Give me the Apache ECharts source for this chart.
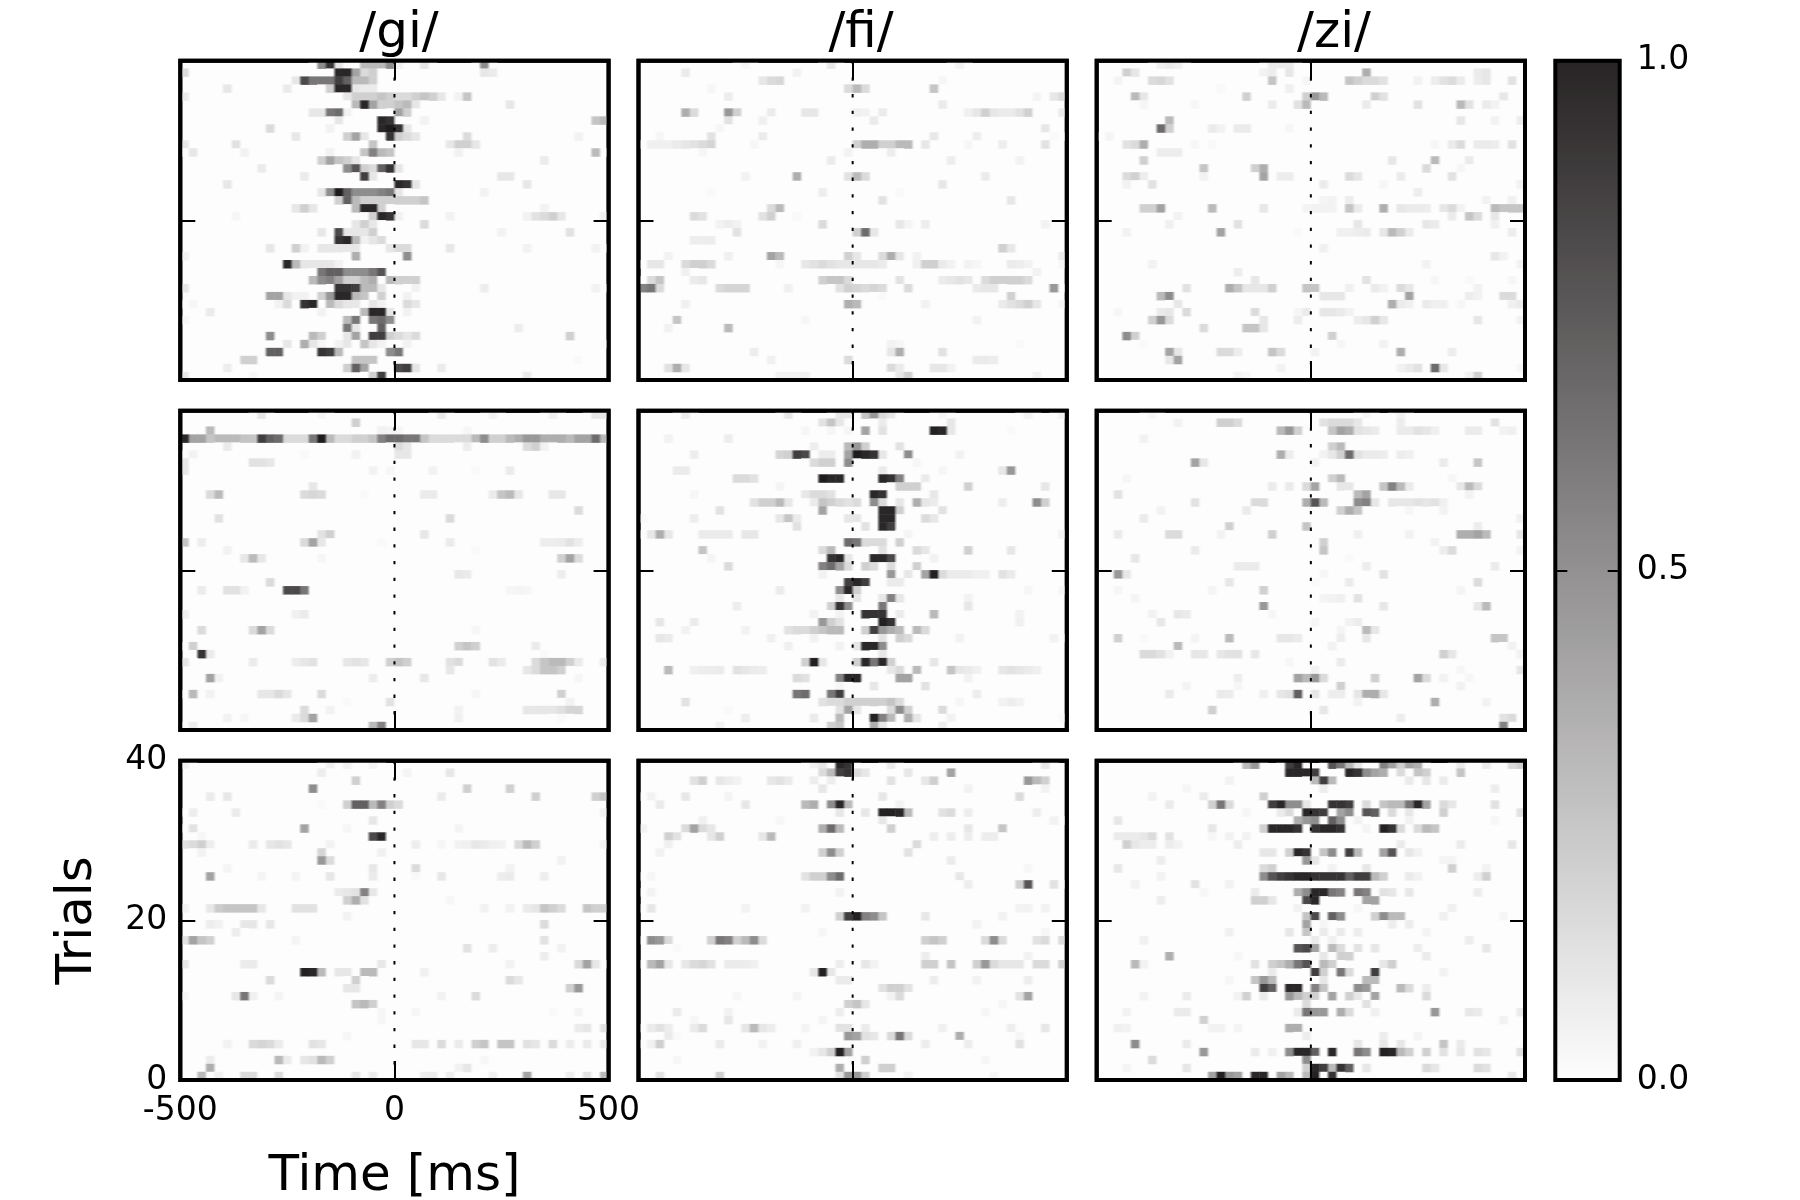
<!DOCTYPE html>
<html><head><meta charset="utf-8">
<style>html,body{margin:0;background:#fff}#c{width:1800px;height:1200px}</style>
<script src="https://cdn.jsdelivr.net/npm/echarts@6/dist/echarts.min.js"></script>
</head><body><div id="c"></div>
<script>
// Each panel: 40 rows listed from the top row (trial 39) down; each row is bin,value,bin,value...
const giTop=[
[16,.5,17,.9,18,.1,21,.3,22,.3,23,.3,24,.5,25,.05,28,.1,35,.5],
[0,.15,18,.95,19,.95,20,.4,21,.15,22,.2,35,.1,36,.08],
[13,.1,14,.8,15,.6,16,.6,17,.6,18,.85,19,.7,20,.3,21,.3,22,.2],
[5,.1,12,.08,17,.2,18,.95,19,.95,20,.1,21,.08,22,.08],
[0,.08,19,.1,20,.2,21,.2,22,.2,23,.25,24,.2,25,.15,26,.15,27,.2,28,.25,29,.2,30,.1,32,.05,33,.25],
[20,.3,21,.95,22,.4,23,.2,24,.2,25,.25,26,.3,27,.1,38,.1],
[15,.1,16,.1,17,.6,18,.65,19,.05,25,.4,26,.2],
[18,.1,23,.95,24,.9,28,.05,48,.25,49,.3],
[10,.15,17,.05,23,.95,24,1,25,.9,26,.1],
[13,.1,19,.2,20,.4,21,.1,24,.9,25,.2,26,.15,27,.1,33,.15,46,.05],
[0,.1,6,.12,22,.25,31,.1,32,.2,33,.2,34,.1],
[1,.1,7,.05,17,.05,21,.25,22,.55,23,.3,24,.25,32,.05,48,.3],
[16,.2,17,.4,18,.25,19,.2,20,.1,42,.08],
[9,.08,19,.5,20,.75,21,.2,22,.15,23,.7,24,.9,25,.1],
[14,.08,21,.85,22,.1,37,.1,38,.1],
[5,.1,25,.95,26,.9,27,.1,40,.1],
[16,.1,17,.5,18,1,19,.7,20,.5,21,.5,22,.5,23,.55,24,.6,25,.1,35,.05],
[18,.2,19,.7,20,.3,21,.2,22,.2,23,.2,24,.2,25,.2,26,.2,27,.2,28,.25],
[13,.1,14,.2,15,.1,20,.3,21,.95,22,.95,23,.2,42,.05],
[6,.03,22,.2,23,.95,24,.9,25,.05,31,.05,40,.05,41,.12,42,.15,43,.2,44,.1,49,.05],
[20,.1,21,.2,22,.1,28,.15],
[16,.1,18,.8,19,.1,20,.1,21,.1,22,.2,37,.05,45,.12],
[18,.9,19,.95,20,.3,21,.05,22,.1,23,.15],
[10,.1,13,.2,14,.05,16,.1,17,.1,18,.1,19,.1,20,.1,24,.1,25,.15,26,.15,31,.1,40,.05,48,.05],
[0,.05,20,.35,26,.5],
[12,.95,13,.3,14,.1,15,.1,16,.1,17,.1,18,.05],
[16,.6,17,.7,18,.7,19,.5,20,.5,21,.5,22,.6,23,.75],
[15,.3,16,.5,17,.55,18,.4,19,.2,20,.2,21,.3,22,.35,24,.3,25,.2,26,.2,27,.2],
[0,.1,18,.9,19,.9,20,.85,21,.3,22,.3,23,.1,27,.05,35,.07,48,.05],
[10,.4,11,.4,12,.1,13,.05,14,.05,16,.2,17,.45,18,.95,19,.95,20,.3,21,.25,23,.2,26,.05],
[1,.03,11,.05,12,.15,14,.9,15,.95,17,.3,18,.15,19,.1,20,.1,22,.1,23,.05,26,.15,27,.1],
[3,.08,16,.05,21,.3,22,.95,23,.95,24,.1,26,.05],
[0,.03,19,.3,20,.6,22,.6,23,.65,24,.5],
[19,.6,20,.1,23,.7,39,.07],
[10,.5,15,.3,16,.2,19,.1,20,.4,22,.85,23,.85,24,.2,25,.15,26,.1,27,.15,45,.2],
[12,.1,14,.35,15,.1,16,.03,18,.05,19,.1,21,.25,22,.1,23,.05,26,.05,49,.02],
[10,.7,11,.7,16,.9,17,.85,18,.3,24,.5,25,.6],
[7,.2,8,.2,20,.25,21,.25,22,.25,46,.02],
[5,.07,19,.2,20,.7,21,.4,25,.8,26,.85,27,.1,30,.08],
[0,.1,8,.03,22,.2,23,.85,40,.08]];
const fiTop=[
[12,.03,22,.1,37,.05],
[5,.08,18,.05],
[14,.1,15,.15,16,.17,35,.03],
[8,.03,24,.15,25,.3,26,.15,34,.25],
[10,.07,46,.04,48,.1,49,.15],
[35,.08],
[5,.35,6,.15,10,.45,11,.2,15,.08,19,.1,20,.1,25,.06,26,.05,28,.08,38,.06,39,.1,40,.2,41,.1,42,.08,43,.08,44,.12,45,.2,49,.08],
[10,.12,14,.06,27,.08],
[9,.03,47,.1],
[2,.03,8,.12,14,.08,34,.1,39,.07,48,.02],
[1,.06,2,.06,3,.06,4,.08,5,.1,6,.12,7,.15,8,.18,13,.03,25,.2,26,.35,27,.35,28,.2,29,.2,30,.3,31,.3,33,.1,38,.03,42,.07,47,.12],
[7,.03,24,.05,29,.07],
[22,.08,36,.07,44,.05],
[],
[12,.05,18,.35,24,.12,25,.3,26,.15,40,.08],
[35,.1],
[8,.02,21,.07,30,.02],
[28,.12,43,.1],
[15,.15,16,.3],
[6,.15,7,.12,14,.12,15,.2,18,.02],
[9,.05,10,.07,11,.05,21,.15,30,.1,31,.04,33,.07,47,.05],
[11,.12,25,.2,26,.65,27,.1],
[6,.07,7,.07,8,.07],
[42,.2,43,.1],
[3,.05,10,.06,15,.4,16,.3,24,.2,25,.1,28,.15,29,.35,30,.1,32,.05,49,.08],
[1,.1,2,.1,5,.15,6,.2,7,.2,8,.15,16,.03,19,.1,20,.12,21,.15,22,.12,23,.1,24,.1,25,.1,26,.1,27,.1,28,.08,32,.06,33,.2,34,.2,35,.08,36,.05,38,.05,39,.03,43,.08,44,.07,45,.05,49,.03],
[5,.06,46,.05],
[1,.15,2,.25,6,.08,7,.1,21,.2,22,.25,23,.25,24,.15,30,.12,35,.08,36,.1,37,.12,38,.1,40,.15,41,.2,42,.2,43,.2,44,.2,45,.15],
[0,.55,1,.6,2,.15,9,.15,10,.18,11,.18,12,.18,17,.06,23,.12,24,.2,25,.18,26,.15,27,.18,28,.15,31,.15,39,.08,40,.1,41,.1,48,.45],
[28,.02,43,.2],
[5,.06,24,.35,25,.3,33,.05,42,.08,43,.12,44,.15,45,.2,46,.1,49,.03],
[],
[4,.25,19,.03,39,.05],
[3,.05,10,.3],
[],
[29,.05,30,.03,44,.02],
[13,.07,29,.1,30,.35,35,.12],
[15,.06,24,.15,39,.08,40,.08,41,.07],
[3,.12,4,.35,5,.1,29,.15,30,.08,34,.1,35,.1,36,.05],
[16,.05,17,.05,18,.05,19,.06,30,.1,31,.2,46,.05]];
const ziTop=[
[7,.06,8,.08,9,.06,20,.08,21,.08,22,.08],
[3,.2,4,.1,19,.05,20,.07,22,.1,31,.35,44,.08,45,.1],
[2,.04,6,.15,7,.17,8,.12,20,.25,24,.03,29,.25,30,.2,31,.15,32,.15,33,.12,37,.05,39,.07,40,.12,41,.15,42,.08,44,.07,45,.1,48,.12],
[14,.02,22,.06],
[4,.3,5,.1,17,.2,24,.2,25,.45,26,.3,32,.2,33,.12,47,.1],
[5,.03,11,.03,20,.08,23,.12,24,.3,31,.08,37,.12,42,.3,43,.12,45,.08,46,.05],
[],
[8,.3,42,.1,46,.05,49,.07],
[7,.65,8,.2,13,.08,14,.05,16,.08,17,.08,22,.03],
[1,.04],
[3,.12,4,.15,5,.35,11,.03,13,.02,39,.03,41,.08,42,.15,44,.08,45,.08,46,.07,48,.12],
[7,.07,8,.07,9,.07],
[5,.2,34,.1,39,.3,43,.08],
[12,.25,18,.2,19,.35,38,.15,42,.03],
[3,.15,4,.2,5,.07,12,.05,19,.4,21,.07,22,.07,29,.15,30,.1,35,.08,41,.12],
[3,.05,6,.12,26,.08,33,.03,49,.05],
[37,.07],
[26,.04,27,.05,29,.07,45,.05,48,.06],
[5,.2,6,.2,7,.4,13,.3,19,.1,24,.04,25,.05,26,.05,27,.05,29,.25,30,.08,33,.35,35,.1,36,.08,37,.08,38,.07,40,.1,41,.15,42,.05,46,.3,47,.25,48,.25,49,.25],
[9,.05,41,.08,43,.25,44,.15,46,.1],
[8,.06,16,.12,30,.1,38,.1,39,.08,46,.06],
[3,.05,14,.4,23,.02,28,.06,29,.06,30,.07,31,.08,33,.1,34,.3,35,.2,36,.08,48,.07],
[],
[26,.06],
[46,.1,47,.05],
[6,.05,38,.05,49,.05],
[16,.07],
[18,.1,31,.12,39,.03,43,.02,48,.03],
[10,.12,15,.35,16,.25,17,.1,18,.1,19,.1,20,.2,24,.25,25,.25,29,.06,32,.08,33,.05,35,.15,36,.1,44,.05],
[7,.3,8,.5,26,.1,27,.1,28,.1,36,.4,43,.07,44,.05,47,.15,48,.15],
[9,.1,34,.35,35,.08,36,.06,38,.08,39,.06,40,.06,42,.03,48,.06,49,.08],
[2,.03,7,.08,8,.1,10,.15,18,.15,23,.03,24,.08,26,.1,27,.1,28,.08,29,.05],
[6,.2,7,.45,8,.15,19,.1,23,.07,30,.07,31,.1,32,.2,33,.1,44,.1,49,.05],
[12,.15,17,.25,18,.25,19,.1],
[3,.5,4,.2,27,.2],
[5,.02,28,.03,33,.05],
[8,.4,9,.1,14,.15,15,.15,16,.07,20,.25,21,.15,25,.05,35,.35,41,.07],
[9,.4,8,.1],
[21,.05,35,.05,36,.08,37,.12,39,.65,40,.1,49,.03],
[16,.05,17,.03,44,.2,43,.05]];
const giMid=[
[9,.1,16,.03,30,.08,36,.05,43,.06,48,.1,49,.1],
[20,.2],
[3,.3,23,.05,24,.04,25,.03,33,.03],
[0,.95,1,.4,2,.4,3,.25,4,.3,5,.3,6,.3,7,.25,8,.25,9,.85,10,.7,11,.65,12,.15,13,.15,14,.15,15,.6,16,1,17,.3,18,.15,19,.15,20,.2,21,.2,22,.25,23,.55,24,.65,25,.65,26,.6,27,.6,28,.25,29,.15,30,.15,31,.15,32,.15,33,.15,34,.3,35,.5,36,.2,37,.2,38,.3,39,.35,40,.45,41,.45,42,.35,43,.35,44,.35,45,.3,46,.4,47,.4,48,.65,49,.3],
[5,.08,25,.15,26,.1,33,.07,40,.15,41,.2,42,.05],
[1,.05,14,.02,20,.05,25,.1,26,.1],
[0,.1,8,.12,9,.12,10,.1],
[0,.1,22,.05,24,.03,29,.05,34,.02,38,.08],
[],
[15,.1],
[3,.15,4,.3,14,.15,15,.17,16,.15,21,.02,28,.08,29,.08,36,.08,37,.25,38,.3,39,.1,43,.1,44,.1],
[],
[46,.15],
[4,.12,31,.15],
[],
[16,.12,17,.2,28,.1],
[0,.25,2,.07,15,.4,14,.15,16,.1,23,.02,31,.08,42,.07,43,.07,44,.08,45,.12,46,.07],
[5,.05,34,.02],
[8,.3,9,.1,7,.1,16,.03,44,.2,45,.4,46,.15],
[],
[32,.1,33,.08,44,.07],
[10,.15],
[2,.08,5,.12,6,.12,7,.05,12,.8,13,.8,14,.6,38,.03,39,.04,40,.03],
[],
[],
[0,.06,13,.06,14,.08],
[],
[2,.15,8,.15,9,.4,10,.15,34,.03],
[],
[1,.2,32,.2,33,.25,34,.2,41,.08],
[2,.9,3,.08,42,.02],
[0,.1,8,.08,13,.07,14,.1,15,.12,19,.1,20,.12,21,.1,24,.2,25,.25,26,.2,31,.12,32,.15,36,.12,37,.08,41,.15,42,.25,43,.3,44,.3,45,.2,46,.08,49,.08],
[31,.1,40,.1,41,.15,42,.25,43,.25,44,.2],
[3,.4,4,.05,22,.07,28,.1,46,.03],
[],
[1,.3,3,.05,9,.1,10,.1,11,.15,12,.1,16,.15,34,.03,44,.2],
[19,.02,24,.12,45,.05],
[14,.15,17,.05,32,.05,40,.1,41,.1,42,.1,43,.1,44,.13,45,.18,46,.18],
[5,.05,7,.03,13,.08,14,.15,15,.4,32,.06,44,.02],
[1,.07,22,.3,23,.55]];
const fiMid=[
[5,.08,17,.1,23,.1,24,.1,26,.25,27,.45,28,.15,29,.1,35,.03,45,.05,49,.05],
[21,.12,22,.25,23,.1,28,.08,36,.1],
[19,.03,22,.03,24,.03,26,.4,28,.12,34,.98,35,.95,36,.1,43,.02],
[3,.05,10,.07],
[20,.07,24,.3,25,.45,26,.2,30,.12],
[6,.07,16,.18,17,.2,18,.85,19,.8,21,.07,22,.07,24,.4,25,1,26,.95,27,.9,28,.1,31,.5,37,.05],
[20,.15,21,.2,22,.2,24,.5,32,.03],
[4,.08,5,.08,28,.08,35,.03,43,.45,42,.1],
[11,.15,12,.15,13,.12,21,1,22,.95,23,.95,28,.95,29,.9,30,.55,33,.08],
[16,.04,30,.2,31,.2,32,.2,38,.2,47,.1],
[6,.03,19,.1,20,.15,21,.15,22,.12,27,.95,28,.9,34,.1],
[13,.12,14,.2,15,.2,16,.3,17,.1,20,.08,21,.25,22,.2,23,.15,24,.12,25,.15,27,.5,28,.15,30,.1,32,.35,33,.1,34,.08,42,.07,46,.5,47,.2],
[9,.12,21,.4,28,.95,29,.95,30,.2,35,.12],
[0,.02,6,.07,16,.1,17,.25,18,.08,24,.1,25,.1,28,.95,29,.95,33,.15,34,.1],
[18,.12,26,.12,28,.95,29,.85],
[1,.1,2,.35,3,.1,7,.08,8,.08,9,.08,10,.08,12,.1,13,.1,31,.04,49,.05],
[24,.65,25,.6,26,.15,27,.15,28,.15,30,.2],
[7,.25,21,.15,22,.3,28,.12,32,.15,33,.1,38,.2,43,.1],
[8,.04,22,.9,23,.95,24,.1,27,.95,28,.95,29,.8,34,.05],
[10,.15,21,.55,22,.65,23,.4,24,.15,26,.2,27,.15,29,.15,32,.2],
[21,.05,29,.45,31,.1,33,.4,34,.98,35,.15,36,.08,37,.08,38,.08,39,.06,40,.06,42,.12,43,.08],
[24,.85,25,.95,26,.85,29,.08,30,.08],
[16,.08,23,.5,24,.95,25,.2,45,.03,49,.03],
[23,.1,25,.1,28,.1,29,.55,30,.1,38,.05],
[11,.07,22,.2,23,.9,24,.5,28,.6,38,.1],
[20,.05,23,.05,26,.9,27,.9,28,.9,30,.08,34,.3,44,.05],
[2,.1,6,.08,21,.45,22,.2,23,.12,28,.98,29,.9,44,.06],
[5,.05,12,.05,17,.12,18,.15,19,.15,20,.2,21,.25,22,.3,23,.3,26,.2,27,.85,28,.45,29,.35,30,.3,32,.3,33,.15],
[2,.1,3,.08,15,.06,20,.05,28,.12,30,.2,31,.15,37,.05,48,.05],
[17,.06,23,.05,25,.1,26,.95,27,.95,28,.5],
[28,.1],
[20,.98,19,.2,21,.1,25,.2,26,.95,27,.6,28,.95,29,.2,34,.1],
[3,.3,6,.06,7,.07,8,.07,9,.08,11,.12,12,.1,13,.08,14,.07,29,.1,30,.15,32,.3,36,.25,37,.1,38,.08,39,.06,42,.1,43,.12,44,.1,45,.08,46,.06],
[18,.15,19,.12,23,.55,24,.95,25,.95,30,.4,31,.4,38,.05],
[23,.03,27,.1,33,.12],
[18,.6,19,.65,22,.6,23,.85,39,.07],
[5,.12,21,.12,22,.15,23,.15,24,.2,25,.2,26,.2,27,.2,28,.2,29,.25,30,.15,37,.03,42,.05,43,.07,44,.05],
[10,.02,23,.12,24,.4,25,.1,30,.5,29,.15,31,.2,35,.15],
[12,.07,20,.08,23,.3,27,.98,28,.55,29,.3,31,.35,32,.1,36,.05,49,.02],
[9,.05,22,.2,23,.25,27,.35,28,.1,35,.07]];
const ziMid=[
[6,.03,31,.03,35,.05],
[9,.05,14,.2,15,.2,16,.15,26,.12,27,.15,28,.15,29,.15,30,.1,35,.07,46,.12],
[21,.3,22,.45,23,.2,27,.25,28,.4,29,.35,30,.12,31,.1,32,.08,35,.08,36,.08,37,.12,38,.1,39,.06,43,.08,44,.08,47,.05,48,.06],
[5,.05],
[27,.2,28,.3],
[21,.35,22,.07,26,.05,27,.1,28,.2,29,.65,30,.12,31,.08,32,.08,33,.07,35,.07,36,.06],
[11,.4,12,.1,25,.05,40,.08,44,.25],
[],
[3,.03,28,.3,27,.2,41,.03],
[20,.08,22,.08,24,.15,25,.4,28,.1,29,.1,33,.25,34,.55,35,.3,36,.08,42,.1,43,.3,44,.15],
[2,.12,30,.3,31,.4,43,.05],
[11,.12,18,.15,19,.15,24,.35,25,.75,26,.3,30,.5,31,.55,32,.1,34,.1,35,.1,36,.1,37,.12,38,.1,39,.12,40,.06],
[7,.05,17,.08,28,.2,29,.35,30,.25,36,.03,40,.05],
[5,.08,49,.06],
[15,.2,24,.25,44,.07],
[2,.08,8,.15,9,.15,14,.05,20,.2,30,.06,36,.05,42,.35,43,.35,44,.4,45,.3,49,.1],
[26,.2,39,.05],
[11,.08,26,.25,40,.07,41,.15,49,.05],
[4,.1,29,.02],
[16,.08,17,.08,18,.08,31,.07,46,.08],
[2,.45,3,.1,26,.03,33,.12],
[15,.1,25,.02,29,.08,44,.15],
[2,.03,13,.04,19,.2,42,.04],
[4,.04,26,.04,27,.05,28,.06,30,.12],
[19,.45,33,.1,45,.3,44,.1],
[6,.05,9,.1,10,.08,20,.03],
[7,.1,25,.03,29,.05,30,.07],
[28,.04,31,.3,32,.1],
[2,.2,5,.02,11,.04,15,.3,21,.1,22,.1,23,.08,28,.07,31,.1,46,.25,47,.25],
[9,.3,27,.05,48,.05],
[5,.15,6,.15,7,.12,8,.05,11,.1,12,.1,14,.1,15,.12,16,.12,18,.1,40,.2,41,.1,49,.05],
[22,.03,28,.08],
[25,.05,42,.03,49,.1],
[16,.07,23,.4,24,.3,25,.45,26,.15,32,.2,37,.4,38,.15,40,.05,43,.03],
[10,.04,16,.03,28,.2,42,.05],
[8,.08,14,.08,15,.07,19,.06,21,.1,22,.12,23,.7,25,.1,27,.07,28,.07,30,.1,31,.35,32,.35,33,.1],
[30,.05,39,.35,45,.05],
[13,.2,26,.1],
[35,.07,47,.12,48,.15],
[47,.55]];
const giBot=[
[0,.05,17,.06,19,.05,22,.04],
[16,.07,26,.04,31,.1],
[20,.2],
[15,.5,33,.2,38,.2],
[3,.08,5,.1,30,.08,41,.2,48,.2,49,.25],
[16,.02,19,.2,20,.7,21,.7,22,.3,23,.55,24,.2,25,.15],
[1,.07,6,.08,49,.05],
[22,.1],
[1,.12,14,.4,19,.03,32,.04],
[2,.03,22,.8,23,.95],
[0,.12,1,.15,2,.2,3,.07,8,.08,10,.1,11,.12,12,.1,17,.05,27,.07,30,.03,32,.05,33,.06,34,.1,35,.08,36,.06,37,.05,39,.15,40,.3,41,.2,49,.05],
[2,.05,16,.18,23,.06],
[16,.45,17,.15,44,.05],
[5,.04,22,.1,27,.15,38,.05],
[3,.4,9,.04,13,.04,17,.1,22,.08,27,.02,30,.1,37,.07,38,.08,42,.07],
[],
[18,.08,19,.1,20,.12,21,.55,22,.1],
[20,.35,19,.2,21,.12,31,.03],
[0,.05,3,.1,4,.22,5,.25,6,.25,7,.25,8,.25,9,.1,13,.12,14,.12,15,.12,35,.05,38,.05,40,.08,41,.1,42,.25,43,.2,44,.15,47,.25,48,.2,49,.2],
[19,.05],
[3,.07,4,.05,7,.1,8,.1,10,.1,42,.15],
[6,.07],
[0,.12,1,.4,2,.25,3,.2,13,.04,42,.12],
[33,.12,36,.07,44,.05],
[42,.07],
[0,.1,7,.08,8,.08,23,.1,38,.05,47,.4,46,.15,48,.1],
[14,.98,15,.95,16,.3,18,.1,19,.1,21,.3,22,.3,28,.06],
[10,.15,20,.2,38,.15,39,.1],
[19,.1,20,.1,46,.45,45,.2],
[0,.03,6,.1,7,.6,8,.06,11,.04,30,.05,34,.15],
[20,.25,21,.3,22,.2],
[23,.03,27,.03,43,.02,46,.04],
[23,.03],
[46,.08,47,.1,49,.12],
[19,.03],
[5,.05,8,.15,9,.18,10,.15,11,.08,15,.12,16,.1,27,.1,28,.1,30,.15,32,.08,34,.2,35,.25,37,.25,38,.25,40,.12,41,.1,43,.15,45,.07,47,.08,49,.08],
[],
[3,.07,11,.3,12,.08,14,.1,15,.12,16,.3,17,.2,35,.03],
[3,.35,33,.1,32,.05],
[2,.3,4,.06,7,.15,8,.15,11,.15,20,.1,22,.08,28,.07,29,.08,31,.07,36,.06,40,.4,45,.07,47,.12,49,.3]];
const fiBot=[
[20,.05,21,.1,23,.95,24,.9,29,.08,47,.1],
[21,.15,22,.3,23,.85,24,.9,25,.15,26,.1,31,.1,36,.4],
[6,.12,7,.2,9,.1,10,.07,11,.05,15,.1,16,.12,17,.08,20,.07,22,.07,29,.12,34,.2,33,.1,45,.45,46,.3,47,.2],
[21,.1,38,.05,47,.05],
[1,.05,5,.1,10,.04,28,.1,44,.15],
[2,.08,12,.1,19,.3,20,.35,22,.5,23,.95,24,.3,30,.05],
[23,.1,26,.1,28,.98,29,.98,30,.95,31,.3,35,.12,36,.15,38,.07,46,.07],
[7,.06,16,.03,28,.1,48,.05],
[0,.05,6,.4,5,.15,7,.15,8,.1,21,.35,22,.65,23,.3,29,.2,38,.1,42,.25],
[3,.2,4,.12,8,.1,9,.2,15,.3,14,.1,34,.07,36,.07,38,.07,40,.07,41,.07],
[3,.06,32,.15],
[2,.05,21,.2,22,.5,23,.2,31,.12],
[36,.08],
[45,.03],
[1,.03,19,.12,20,.2,21,.2,22,.5,23,.65,37,.1],
[38,.07,44,.2,45,.75,48,.12],
[1,.05,23,.05],
[],
[1,.1,12,.05,19,.05,44,.05,45,.05,47,.05],
[23,.2,24,.85,25,.98,26,.55,27,.5,28,.25,33,.1,42,.05],
[39,.05],
[21,.03,47,.03],
[1,.5,2,.45,3,.15,8,.2,9,.6,10,.55,11,.2,12,.3,13,.5,14,.15,33,.2,34,.25,35,.2,40,.15,41,.5,42,.15,46,.12,47,.15,49,.15],
[4,.02],
[33,.07,45,.05],
[1,.3,2,.4,3,.1,5,.1,6,.15,7,.17,8,.12,10,.08,11,.08,12,.07,13,.06,23,.07,26,.1,27,.05,33,.2,34,.2,36,.25,39,.2,40,.45,41,.15,42,.1,43,.1,44,.1,46,.15,47,.15,49,.2],
[20,.1,21,.98,22,.1],
[23,.08,24,.08,34,.07,39,.05,45,.07],
[28,.12,29,.2,30,.2,31,.12],
[11,.03,18,.04,30,.15,29,.05,44,.12,45,.4],
[24,.2,25,.25,26,.1,42,.03],
[4,.08,10,.05,23,.07,40,.03],
[6,.03,10,.1,21,.04],
[1,.08,2,.12,3,.07,6,.08,7,.15,12,.1,13,.3,14,.1,15,.07,19,.04,23,.12,24,.12,26,.08,35,.06,43,.07,47,.1],
[3,.08,4,.02,24,.45,25,.4,26,.12,27,.1,29,.15,30,.6,31,.15,37,.35,44,.03],
[1,.05,2,.2,9,.08,14,.05,18,.06,33,.07,38,.07,44,.12],
[20,.05,21,.1,22,.2,23,.98,24,.4],
[4,.03,26,.2,40,.03],
[23,.35,28,.2,29,.2],
[2,.12,9,.2,23,.12,24,.45,25,.45,26,.2,31,.05,41,.03]];
const ziBot=[
[17,.3,18,.45,22,.85,23,.95,27,.75,28,.6,29,.3,30,.1,33,.55,34,.4,35,.2,36,.4,37,.35,42,.08,45,.08,48,.15,49,.2],
[22,.95,23,.95,24,.95,25,.85,29,.95,30,.9,31,.5,32,.4,33,.35,35,.15,37,.25,38,.2,42,.25],
[15,.05,25,.3,26,.85,27,.3,36,.08,38,.1,40,.08],
[10,.03,26,.07,46,.07],
[6,.05,12,.08,19,.2],
[8,.08,14,.6,13,.2,15,.15,20,.85,21,.95,22,.5,23,.5,24,.1,27,.9,28,.9,29,.85,31,.15,33,.25,34,.3,35,.3,36,.6,37,.95,38,.4,40,.15,41,.1,46,.12],
[17,.03,21,.08,22,.15,24,.95,25,.9,26,.85,28,.4,29,.5,31,.75,32,.7,34,.15,36,.1,40,.2,49,.12],
[2,.1,23,.35,24,.45,25,.5,27,.7,28,.5,30,.05,36,.05,46,.03],
[13,.1,19,.2,20,.95,21,.95,22,.95,23,.9,25,.9,26,.95,27,.95,28,.9,31,.04,33,.98,34,.9,35,.15,37,.15,38,.3,39,.25],
[2,.08,3,.08,4,.08,5,.1,6,.15,8,.12,13,.03,15,.05,17,.05],
[3,.2,4,.1,5,.07,6,.07,8,.07,9,.05,16,.07,35,.08,42,.08,48,.1],
[19,.1,20,.1,22,.2,23,.95,24,.9,26,.25,27,.5,29,.85,30,.3,33,.4,34,.75,36,.1,37,.05],
[7,.07,24,.45,25,.1,40,.04,41,.04],
[2,.1,19,.15,20,.2,27,.05,31,.1,41,.2,45,.05],
[7,.05,19,.5,20,.75,21,.85,22,.9,23,.95,24,.95,25,.9,26,.9,27,.9,28,.9,29,.7,30,.85,31,.85,32,.3,33,.2,36,.08,37,.05,44,.07,45,.2],
[4,.05,11,.12,15,.05],
[12,.03,18,.08,23,.35,24,.5,25,.95,26,.95,27,.6,28,.55,30,.6,31,.55,33,.12,34,.1,36,.1,44,.07],
[7,.07,18,.2,19,.2,20,.1,24,.8,25,.95,31,.4,32,.4],
[23,.05,30,.03,41,.06],
[24,.25,25,.8,27,.7,28,.5,32,.2,33,.5,34,.3,35,.3,40,.06,47,.03],
[24,.4,26,.03,34,.07,36,.07],
[15,.06,22,.1,24,.25,26,.08,28,.08,30,.07,38,.04],
[5,.06,25,.08,27,.06,43,.07],
[23,.75,24,.8,25,.4,27,.3,28,.15,30,.12,32,.1,37,.07,45,.1],
[8,.35,16,.03,26,.1,28,.2,29,.2,38,.08],
[4,.3,5,.05,18,.12,20,.2,21,.25,22,.35,23,.6,24,.75,26,.3,27,.2,33,.1,34,.2],
[20,.08,25,.85,26,.2,28,.6,29,.15,32,.85,40,.05],
[15,.03,18,.25,19,.45,20,.3,26,.1,31,.3,32,.3],
[19,.85,20,.7,22,.95,23,.95,25,.55,26,.25,30,.5,31,.45,35,.3,36,.15,38,.07],
[5,.05,10,.08,16,.05,17,.2,19,.08,22,.45,23,.3,24,.2,25,.2,27,.4,29,.2,30,.1,32,.4,38,.15],
[24,.15,31,.12],
[3,.05,9,.08,10,.08,23,.08,24,.6,25,.45,26,.45,28,.35,29,.15,32,.06,39,.45,43,.1,44,.08,49,.08],
[12,.2,47,.05],
[2,.06,3,.05,13,.05,14,.05,16,.04,22,.35,23,.35],
[24,.07,33,.07,37,.04],
[4,.5,10,.08,30,.1,33,.1,35,.1,40,.25,42,.08],
[12,.45,18,.08,20,.06,22,.5,23,.95,24,.95,25,.7,27,.95,30,.6,31,.5,33,.98,34,.95,35,.3,36,.2,38,.2,40,.12,42,.1,44,.12,45,.1,49,.12],
[6,.15,24,.5],
[3,.04,10,.1,24,.2,25,.95,26,.85,27,.3,28,.9,29,.7,31,.1,38,.15,39,.1,44,.15,45,.12],
[13,.4,14,.98,15,.45,16,.4,18,.95,19,.95,21,.4,22,.3,24,.3,25,.98,27,.9,48,.1]];

const panels=[giTop,fiTop,ziTop,giMid,fiMid,ziMid,giBot,fiBot,ziBot];
const titles=['/gi/','/fi/','/zi/'];
const titleCenters=[394,856,1329];
const timeTicks=[-500,0,500];
const trialTicks=[0,20,40];
const colorTicks=[0,0.5,1];
const nBins=50, nTrials=40;
const lightRGB=[253,253,253], darkRGB=[31,28,29];
const colLeft=[180.3,638.5,1096.7], rowTop=[60.7,410.7,760.7], panelW=428.3, panelH=319.3;

const binCats=Array.from({length:nBins},(_,i)=>i), trialCats=Array.from({length:nTrials},(_,i)=>i);
const shade=v=>{const c=lightRGB.map((l,k)=>Math.round(l+(darkRGB[k]-l)*v));return `rgb(${c[0]},${c[1]},${c[2]})`;};
function cells(rows){
  const out=[];
  rows.forEach((pairs,r)=>{
    const v=new Array(nBins).fill(0);
    for(let k=0;k<pairs.length;k+=2) v[pairs[k]]=Math.max(v[pairs[k]],pairs[k+1]);
    for(let b=0;b<nBins;b++){
      const prev=b>0?v[b-1]:v[b], next=b<nBins-1?v[b+1]:v[b];
      if(!v[b]&&!prev&&!next) continue;
      out.push({value:[b,nTrials-1-r,v[b]],itemStyle:{color:new echarts.graphic.LinearGradient(0,0,1,0,[
        {offset:0,color:shade((prev+v[b])/2)},{offset:.22,color:shade(v[b])},{offset:.78,color:shade(v[b])},{offset:1,color:shade((next+v[b])/2)}])}});
    }
  });
  return out;
}
const FONT='"DejaVu Sans"';
const noLine={show:false,onZero:false};
const grid=[],xAxis=[],yAxis=[],series=[];
const tick=(len)=>({show:true,inside:true,length:len,lineStyle:{color:'#000',width:2}});
panels.forEach((rows,i)=>{
  const col=i%3,row=Math.floor(i/3),corner=i===6,gi=grid.length;
  grid.push({left:colLeft[col],top:rowTop[row],width:panelW,height:panelH,show:true,backgroundColor:'#fdfdfd',borderColor:'#000',borderWidth:4,z:0,outerBoundsMode:'none'});
  const xi=xAxis.length,yi=yAxis.length;
  const gridZ={z:6};
  xAxis.push({...gridZ,type:'category',gridIndex:gi,data:binCats,position:'top',boundaryGap:true,axisLine:noLine,axisLabel:{show:false},
    axisTick:{...tick(19),interval:n=>n===0||n===25},splitLine:{show:false}});
  yAxis.push({...gridZ,type:'category',gridIndex:gi,data:trialCats,position:'right',boundaryGap:true,axisLine:noLine,axisLabel:{show:false},
    axisTick:{...tick(15),interval:n=>n===0||n===20},splitLine:{show:false}});
  xAxis.push({...gridZ,type:'value',gridIndex:gi,position:'bottom',min:timeTicks[0],max:timeTicks[2],interval:timeTicks[2],axisLine:noLine,splitLine:{show:false},
    axisTick:tick(19),axisLabel:{show:corner,color:'#000',fontFamily:FONT,fontSize:33,margin:15},
    name:corner?'Time [ms]':'',nameLocation:'middle',nameGap:72,nameTextStyle:{color:'#000',fontFamily:FONT,fontSize:50}});
  yAxis.push({...gridZ,type:'value',gridIndex:gi,position:'left',min:trialTicks[0],max:trialTicks[2],interval:trialTicks[1],axisLine:noLine,splitLine:{show:false},
    axisTick:tick(15),axisLabel:{show:corner,color:'#000',fontFamily:FONT,fontSize:33,margin:13},
    name:corner?'Trials':'',nameLocation:'middle',nameRotate:90,nameGap:77,nameTextStyle:{color:'#000',fontFamily:FONT,fontSize:50}});
  series.push({type:'heatmap',xAxisIndex:xi,yAxisIndex:yi,data:cells(rows),progressive:0,silent:true,z:2,emphasis:{disabled:true}});
  series.push({type:'line',xAxisIndex:xi+1,yAxisIndex:yi+1,data:[[0,40],[0,0]],showSymbol:false,silent:true,z:4,
    lineStyle:{color:'#000',width:2,type:[3.3,13.4]}});
});
// frame overlay grids (drawn above the heatmap cells)
panels.forEach((_,i)=>{
  const col=i%3,row=Math.floor(i/3);
  const gi=grid.length;
  grid.push({left:colLeft[col],top:rowTop[row],width:panelW,height:panelH,show:true,backgroundColor:'transparent',borderColor:'#000',borderWidth:4,z:5,outerBoundsMode:'none'});
  xAxis.push({type:'value',gridIndex:gi,show:false,min:0,max:1});
  yAxis.push({type:'value',gridIndex:gi,show:false,min:0,max:1});
});
// colour bar
const cbLeft=1555.3,cbTop=60.7,cbW=64.4,cbH=1019.3;
const cb=grid.length;
grid.push({left:cbLeft,top:cbTop,width:cbW,height:cbH,show:true,backgroundColor:'transparent',borderColor:'#000',borderWidth:4,z:5,outerBoundsMode:'none'});
xAxis.push({type:'value',gridIndex:cb,show:false,min:0,max:1});
yAxis.push({z:6,type:'value',gridIndex:cb,position:'right',min:colorTicks[0],max:colorTicks[2],interval:colorTicks[1],axisLine:noLine,splitLine:{show:false},
  axisTick:tick(12),axisLabel:{color:'#000',fontFamily:FONT,fontSize:33,margin:17,formatter:v=>v.toFixed(1),padding:[0,0,2,0]}});
yAxis.push({z:6,type:'value',gridIndex:cb,position:'left',min:colorTicks[0],max:colorTicks[2],interval:colorTicks[1],axisLine:noLine,splitLine:{show:false},
  axisTick:tick(12),axisLabel:{show:false}});

const chart=echarts.init(document.getElementById('c'),null,{renderer:'canvas',width:1800,height:1200});
chart.setOption({
  animation:false,backgroundColor:'#fff',
  title:titles.map((t,i)=>({text:t,left:titleCenters[i],top:4,textAlign:'center',textStyle:{fontFamily:FONT,fontSize:50,fontWeight:'normal',color:'#000'}})),
  grid,xAxis,yAxis,series,
  visualMap:[{type:'continuous',seriesIndex:[],min:0,max:1,left:cbLeft,top:cbTop,itemWidth:cbW,itemHeight:cbH,padding:0,text:null,calculable:false,realtime:false,hoverLink:false,
    showLabel:false,inRange:{color:[shade(0),'#282425']},z:4}]
});
</script></body></html>
